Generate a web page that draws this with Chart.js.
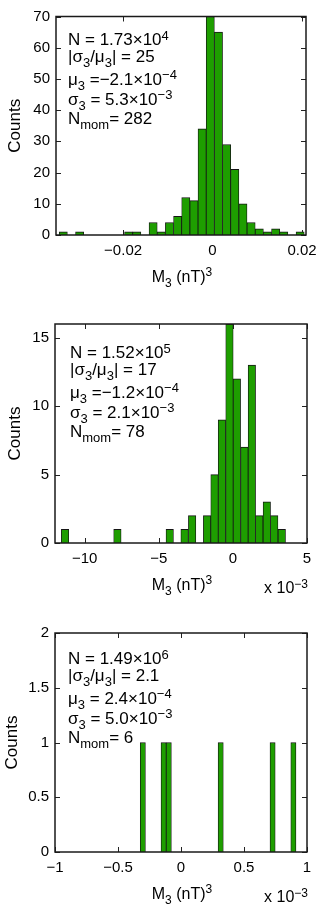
<!DOCTYPE html>
<html>
<head>
<meta charset="utf-8">
<style>
    body {
        margin: 0;
        background: #fff;
    }
    .panel {
        position: absolute;
        left: 0;
        width: 327px;
    }
</style>
</head>
<body>
    <div class="panel" style="top: 0; height: 300px;"><canvas id="hist1"></canvas></div>
    <div class="panel" style="top: 300px; height: 310px;"><canvas id="hist2"></canvas></div>
    <div class="panel" style="top: 610px; height: 304px;"><canvas id="hist3"></canvas></div>

<script src="https://cdn.jsdelivr.net/npm/chart.js@4.4.0/dist/chart.umd.min.js"></script>
<script>
    // top panel, M3 in (nT)^3 (30 bins)
    const centers1 = [-0.03337, -0.03154, -0.02972, -0.02789, -0.02606, -0.02424, -0.02241, -0.02059, -0.01876, -0.01693,
        -0.01511, -0.01328, -0.01146, -0.00963, -0.00780, -0.00598, -0.00415, -0.00233, -0.00050, 0.00133,
        0.00315, 0.00498, 0.00680, 0.00863, 0.01046, 0.01228, 0.01411, 0.01593, 0.01776, 0.01959];
    const counts1 = [1, 0, 1, 0, 0, 0, 0, 0, 1, 1,
        0, 4, 1, 4, 6, 12, 11, 34, 70, 65,
        29, 21, 10, 4, 2, 1, 2, 1, 0, 1];
    const xTicks1 = [-0.02, 0, 0.02];
    const yTicks1 = [0, 10, 20, 30, 40, 50, 60, 70];

    // middle panel, M3 in 10^-3 (nT)^3
    const centers2 = [-11.32, -10.82, -10.31, -9.81, -9.30, -8.80, -8.30, -7.79, -7.29, -6.78,
        -6.28, -5.78, -5.27, -4.77, -4.26, -3.76, -3.26, -2.75, -2.25, -1.74,
        -1.24, -0.74, -0.23, 0.27, 0.78, 1.28, 1.78, 2.29, 2.79, 3.30];
    const counts2 = [1, 0, 0, 0, 0, 0, 0, 1, 0, 0,
        0, 0, 0, 0, 1, 0, 1, 2, 0, 2,
        5, 9, 16, 12, 7, 13, 2, 3, 2, 1];
    const xTicks2 = [-10, -5, 0, 5];
    const yTicks2 = [0, 5, 10, 15];

    // bottom panel, M3 in 10^-3 (nT)^3
    const centers3 = [-0.303, -0.262, -0.221, -0.179, -0.138, -0.097, -0.056, -0.015, 0.027, 0.068,
        0.109, 0.150, 0.191, 0.233, 0.274, 0.315, 0.356, 0.397, 0.439, 0.480,
        0.521, 0.562, 0.603, 0.645, 0.686, 0.727, 0.768, 0.809, 0.851, 0.892];
    const counts3 = [1, 0, 0, 0, 1, 1, 0, 0, 0, 0,
        0, 0, 0, 0, 0, 1, 0, 0, 0, 0,
        0, 0, 0, 0, 0, 1, 0, 0, 0, 1];
    const xTicks3 = [-1, -0.5, 0, 0.5, 1];
    const yTicks3 = [0, 0.5, 1, 1.5, 2];

    // statistics text, one entry per line: [text, 'sub' | 'sup' | undefined]
    const stats1 = [
        [['N = 1.73×10'], ['4', 'sup']],
        [['|σ'], ['3', 'sub'], ['/μ'], ['3', 'sub'], ['| = 25']],
        [['μ'], ['3', 'sub'], [' =−2.1×10'], ['−4', 'sup']],
        [['σ'], ['3', 'sub'], [' = 5.3×10'], ['−3', 'sup']],
        [['N'], ['mom', 'sub'], ['= 282']]
    ];
    const stats2 = [
        [['N = 1.52×10'], ['5', 'sup']],
        [['|σ'], ['3', 'sub'], ['/μ'], ['3', 'sub'], ['| = 17']],
        [['μ'], ['3', 'sub'], [' =−1.2×10'], ['−4', 'sup']],
        [['σ'], ['3', 'sub'], [' = 2.1×10'], ['−3', 'sup']],
        [['N'], ['mom', 'sub'], ['= 78']]
    ];
    const stats3 = [
        [['N = 1.49×10'], ['6', 'sup']],
        [['|σ'], ['3', 'sub'], ['/μ'], ['3', 'sub'], ['| = 2.1']],
        [['μ'], ['3', 'sub'], [' = 2.4×10'], ['−4', 'sup']],
        [['σ'], ['3', 'sub'], [' = 5.0×10'], ['−3', 'sup']],
        [['N'], ['mom', 'sub'], ['= 6']]
    ];
    const xTitle = [['M'], ['3', 'sub'], [' (nT)'], ['3', 'sup']];
    const expLabel = [['x 10'], ['−3', 'sup']];

    const FONT = 'Liberation Sans, Arial, Helvetica, sans-serif';
    const lineOffsets = [0, 16.5, 39.5, 59.5, 79];

    const fmt = (v) => (v < 0 ? '−' : '') + Math.abs(v);

    // draws a list of runs with sub/superscripts, returns width
    const drawRuns = (ctx, runs, x, y, size, measureOnly) => {
        let cx = x;
        runs.forEach(([t, mode]) => {
            const s = mode ? Math.round(size * 0.75) : size;
            ctx.font = `${s}px ${FONT}`;
            const dy = mode === 'sub' ? 5 : mode === 'sup' ? -5.5 : 0;
            if (!measureOnly) ctx.fillText(t, cx, y + dy);
            cx += ctx.measureText(t).width;
        });
        return cx - x;
    };

    const boxedAxes = {
        id: 'boxedAxes',
        beforeDatasetsDraw(chart) {
            // inward tick marks on all four sides, under the bars
            const {ctx, chartArea: a, scales: {x, y}} = chart;
            ctx.save();
            ctx.strokeStyle = '#222';
            ctx.lineWidth = 1;
            ctx.beginPath();
            x.ticks.forEach(t => {
                const px = Math.round(x.getPixelForValue(t.value)) + 0.5;
                ctx.moveTo(px, a.bottom); ctx.lineTo(px, a.bottom - 5);
                ctx.moveTo(px, a.top); ctx.lineTo(px, a.top + 5);
            });
            y.ticks.forEach(t => {
                const py = Math.round(y.getPixelForValue(t.value)) + 0.5;
                ctx.moveTo(a.left, py); ctx.lineTo(a.left + 5, py);
                ctx.moveTo(a.right, py); ctx.lineTo(a.right - 5, py);
            });
            ctx.stroke();
            ctx.restore();
        },
        afterDatasetsDraw(chart) {
            const {ctx, chartArea: a} = chart;
            ctx.save();
            ctx.strokeStyle = '#1a1a1a';
            ctx.lineWidth = 1.5;
            ctx.strokeRect(a.left, a.top, a.right - a.left, a.bottom - a.top);
            ctx.restore();
        },
        afterDraw(chart, args, opts) {
            const {ctx, chartArea: a} = chart;
            ctx.save();
            ctx.fillStyle = '#000';
            ctx.textBaseline = 'alphabetic';
            ctx.textAlign = 'left';
            opts.stats.forEach((line, i) => {
                drawRuns(ctx, line, a.left + opts.textX, a.top + opts.textY + lineOffsets[i], 17);
            });
            const w = drawRuns(ctx, xTitle, 0, 0, 16, true);
            drawRuns(ctx, xTitle, (a.left + a.right) / 2 - w / 2 + 1, a.bottom + 46.5, 16);
            if (opts.exp) {
                const we = drawRuns(ctx, expLabel, 0, 0, 16, true);
                drawRuns(ctx, expLabel, a.right + 1 - we, a.bottom + 50, 16);
            }
            ctx.restore();
        }
    };

    const makeHistogram = (id, centers, counts, xTicks, yTicks, box, extra) => {
        const ctx = document.getElementById(id).getContext('2d');
        return new Chart(ctx, {
            type: 'bar',
            data: {
                datasets: [{
                    data: centers.map((c, i) => ({x: c, y: counts[i]})),
                    backgroundColor: '#1e9e00',
                    borderColor: '#151515',
                    borderWidth: {top: 1, left: 0.8, right: 0.8, bottom: 0},
                    barPercentage: 1,
                    categoryPercentage: 1
                }]
            },
            options: {
                responsive: true,
                maintainAspectRatio: false,
                animation: false,
                layout: {
                    padding: {left: 0, top: box.top, right: 327 - box.right, bottom: 0}
                },
                plugins: {
                    legend: {display: false},
                    tooltip: {enabled: false},
                    boxedAxes: extra
                },
                scales: {
                    x: {
                        type: 'linear',
                        offset: false,
                        min: box.xMin,
                        max: box.xMax,
                        grid: {display: false, drawTicks: false},
                        border: {display: false},
                        afterBuildTicks: (s) => { s.ticks = xTicks.map(v => ({value: v})); },
                        afterFit: (s) => { s.height = box.height - box.bottom; },
                        ticks: {
                            color: '#000',
                            padding: 7,
                            maxRotation: 0,
                            font: {family: FONT, size: 15},
                            callback: fmt
                        }
                    },
                    y: {
                        min: 0,
                        max: box.yMax,
                        grid: {display: false, drawTicks: false},
                        border: {display: false},
                        afterBuildTicks: (s) => { s.ticks = yTicks.map(v => ({value: v})); },
                        afterFit: (s) => { s.width = box.left; },
                        ticks: {
                            color: '#000',
                            padding: 6,
                            font: {family: FONT, size: 15},
                            callback: fmt
                        },
                        title: {
                            display: true,
                            text: 'Counts',
                            color: '#000',
                            font: {family: FONT, size: 17},
                            padding: {top: box.titlePad, bottom: 0}
                        }
                    }
                }
            },
            plugins: [boxedAxes]
        });
    };

    makeHistogram('hist1', centers1, counts1, xTicks1, yTicks1,
        {left: 56, right: 306, top: 16.5, bottom: 235, height: 300, xMin: -0.035, xMax: 0.0209, yMax: 70, titlePad: 5},
        {stats: stats1, textX: 12, textY: 28.5, exp: false});
    makeHistogram('hist2', centers2, counts2, xTicks2, yTicks2,
        {left: 55, right: 307, top: 24, bottom: 243, height: 310, xMin: -12, xMax: 5, yMax: 16, titlePad: 5},
        {stats: stats2, textX: 15, textY: 34, exp: true});
    makeHistogram('hist3', centers3, counts3, xTicks3, yTicks3,
        {left: 55, right: 307, top: 23, bottom: 242, height: 304, xMin: -1, xMax: 1, yMax: 2, titlePad: 2},
        {stats: stats3, textX: 13, textY: 31, exp: true});
</script>
</body>
</html>
